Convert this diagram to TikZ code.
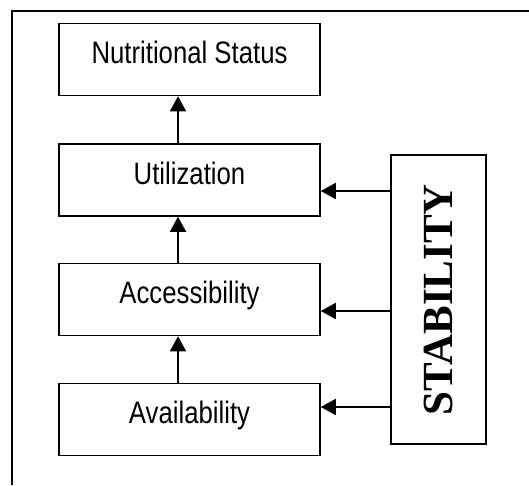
\documentclass[tikz,border=0pt]{standalone}
\usepackage{fontspec}
\setmainfont{Liberation Sans}[FakeStretch=0.83]
\newfontfamily\stabfont{Liberation Serif}
\usetikzlibrary{arrows.meta}
\tikzset{
    pillar/.style={draw, line width=1.5pt, inner sep=0pt, minimum width=261pt, minimum height=72pt,
        text height=22pt, text depth=14pt, font=\fontsize{31}{36}\selectfont},
    feed/.style={line width=1.6pt, -{Triangle[length=15pt,width=16pt]}}
}
\begin{document}
\begin{tikzpicture}[x=1pt, y=-1pt]
    \useasboundingbox (0,0) rectangle (529,485);
    \draw[line width=1.5pt] (12,485) -- (12,11) -- (529,11);
    \node[pillar] (ns) at (189.5,59.5) {Nutritional Status};
    \node[pillar] (ut) at (189.5,180) {Utilization};
    \node[pillar] (ac) at (189.5,299.5) {Accessibility};
    \node[pillar] (av) at (189.5,419.5) {Availability};
    \node[draw, line width=1.5pt, minimum width=95pt, minimum height=289pt] (st) at (438.5,299.5) {};
    \node[rotate=90, font=\stabfont\bfseries\fontsize{43}{48}\selectfont] at (st.center) {STABILITY};
    \path[feed] (av.north -| 178,0) edge (ac.south -| 178,0);
    \path[feed] (ac.north -| 178,0) edge (ut.south -| 178,0);
    \path[feed] (ut.north -| 178,0) edge (ns.south -| 178,0);
    \path[feed] (st.west |- 0,191) edge (ut.east |- 0,191);
    \path[feed] (st.west |- 0,311) edge (ac.east |- 0,311);
    \path[feed] (st.west |- 0,407) edge (av.east |- 0,407);
\end{tikzpicture}
\end{document}
